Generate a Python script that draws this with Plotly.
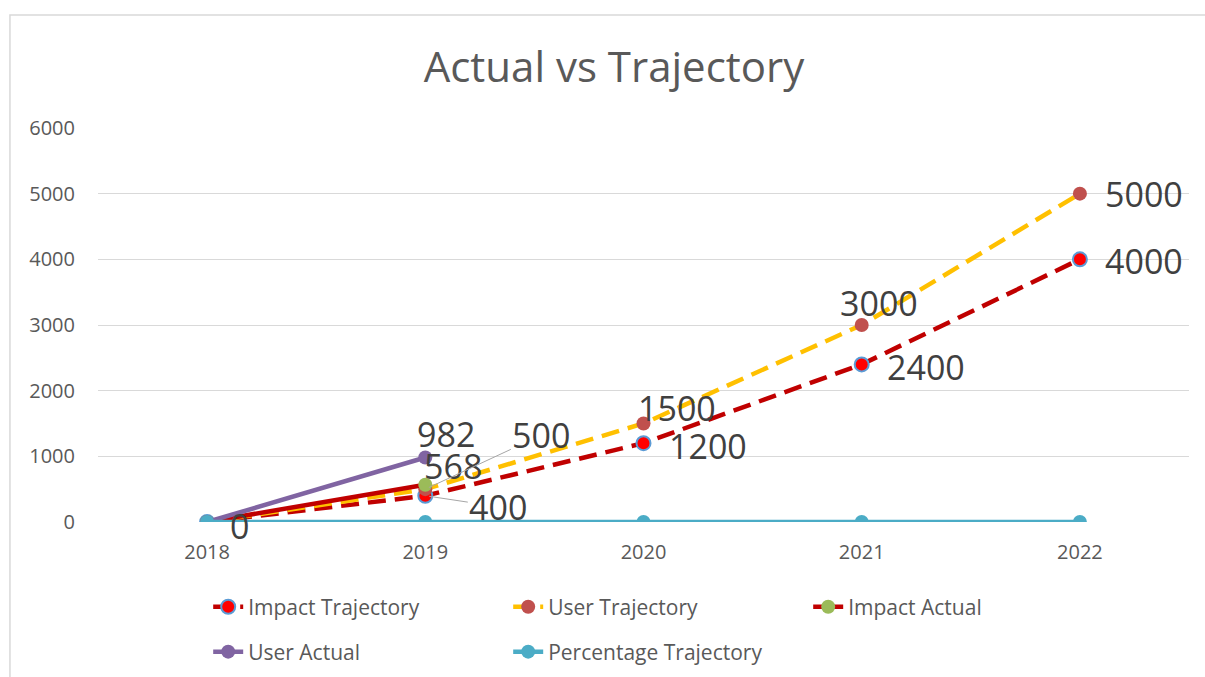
import plotly.graph_objects as go

years = ["2018", "2019", "2020", "2021", "2022"]
impact_traj = [0, 400, 1200, 2400, 4000]
user_traj = [0, 500, 1500, 3000, 5000]
impact_actual = [0, 568]
user_actual = [0, 982]
pct_traj = [0, 0, 0, 0, 0]
y_ticks = [0, 1000, 2000, 3000, 4000, 5000, 6000]

fig = go.Figure()

def add(name, y, line_color, dash, marker_color, outline=None, legend="legend"):
    fig.add_trace(go.Scatter(
        x=years[:len(y)], y=y, name=name, mode="lines+markers",
        line=dict(color=line_color, width=4.5, dash=dash),
        marker=dict(size=14, color=marker_color,
                    line=dict(color=outline or marker_color, width=2 if outline else 0)),
        legend=legend,
    ))

add("Impact Trajectory", impact_traj, "#C00000", "18px,9px", "#FF0000", outline="#5B9BD5")
add("User Trajectory", user_traj, "#FFC000", "18px,9px", "#C0504D")
add("Impact Actual", impact_actual, "#C00000", "solid", "#9BBB59")
add("User Actual", user_actual, "#8064A2", "solid", "#8064A2", legend="legend2")
add("Percentage Trajectory", pct_traj, "#4BACC6", "solid", "#4BACC6", legend="legend2")

label_font = dict(family="Open Sans", size=34, color="#404040")
anns = []
# (series key, index, x-shift px, y-shift px, leader)
label_specs = [
    ("ia", 0, 32, -4, False),
    ("ua", 1, 21, 24, False),
    ("ia", 1, 28, 19, False),
    ("ut", 1, 116, -54, True),
    ("it", 1, 73, 11, True),
    ("ut", 2, 33, 16, False),
    ("it", 2, 64, -3, False),
    ("ut", 3, 17, 22, False),
    ("it", 3, 64, -3, False),
    ("ut", 4, 64, 0, False),
    ("it", 4, 64, -2, False),
]
series = {"ia": impact_actual, "ua": user_actual, "ut": user_traj, "it": impact_traj}
for key, i, dx, dy, leader in label_specs:
    v = series[key][i]
    if leader:
        anns.append(dict(x=i, y=v, xref="x", yref="y", text=str(v), showarrow=True,
                         ax=dx, ay=dy, arrowhead=0, arrowwidth=1, arrowcolor="#A6A6A6",
                         standoff=4, font=label_font))
    else:
        anns.append(dict(x=i, y=v, xref="x", yref="y", text=str(v), showarrow=False,
                         xshift=dx, yshift=dy, font=label_font))

tick_font = dict(family="Open Sans", size=20, color="#595959")
legend_font = dict(family="Open Sans", size=21, color="#595959")

fig.update_layout(
    width=1205, height=677,
    margin=dict(l=98, r=16, t=128, b=155, autoexpand=False),
    paper_bgcolor="white", plot_bgcolor="white",
    title=dict(text="Actual vs Trajectory", x=0.5095, xanchor="center", y=0.9, yanchor="middle",
               font=dict(family="Open Sans", size=42, color="#595959")),
    xaxis=dict(type="category", range=[-0.5, 4.5], showgrid=False, showline=False,
               ticks="", tickfont=tick_font, zeroline=False, ticklabelstandoff=16),
    yaxis=dict(range=[0, 6000], tickvals=y_ticks, showgrid=True, gridcolor="#D9D9D9",
               gridwidth=1, zeroline=False, showline=False, tickfont=tick_font,
               ticklabelstandoff=22),
    legend=dict(orientation="h", x=0.101, y=-0.216, xanchor="left", yanchor="middle",
                entrywidth=255, entrywidthmode="pixels", font=legend_font,
                bgcolor="rgba(0,0,0,0)"),
    legend2=dict(orientation="h", x=0.101, y=-0.33, xanchor="left", yanchor="middle",
                 entrywidth=255, entrywidthmode="pixels", font=legend_font,
                 bgcolor="rgba(0,0,0,0)"),
    annotations=anns,
    showlegend=True,
    shapes=[dict(type="rect", xref="paper", yref="paper", x0=-0.0807, x1=1.03,
                 y0=-0.45, y1=1.287, line=dict(color="#D9D9D9", width=1.5),
                 fillcolor="rgba(0,0,0,0)", layer="below")],
)

fig.write_html("out.html", config={"displayModeBar": False},
               post_script="document.body.style.margin='0';")
